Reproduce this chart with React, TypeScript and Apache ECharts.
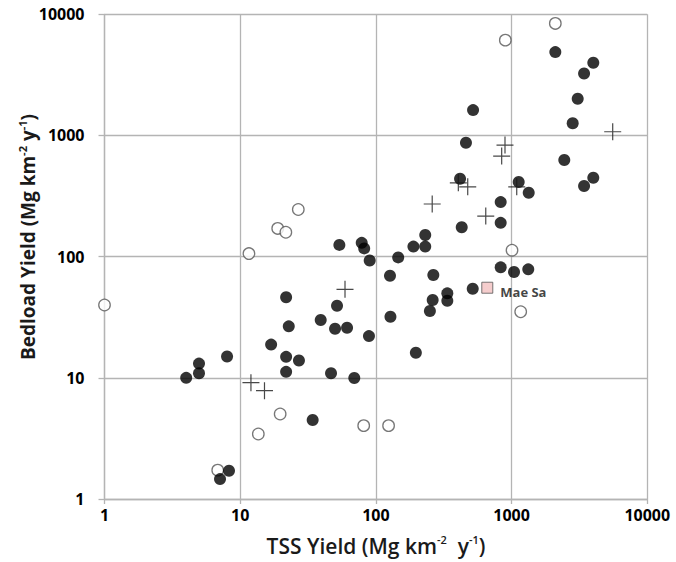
import React, { useEffect, useRef } from "react";
import * as echarts from "echarts";

// [TSS yield, bedload yield]
const filledPoints: [number, number][] = [
  [53.8, 125], [78.6, 130], [82, 117], [90, 93],
  [2100, 4875], [4000, 3980], [3420, 3250], [3070, 2010], [2820, 1260],
  [520, 1620], [461, 871], [2445, 627], [4000, 448], [3420, 383],
  [417, 439], [1128, 413], [1337, 337], [831, 282], [831, 190],
  [429, 175], [231, 151], [189, 121], [231, 121], [146, 98.6],
  [8.27, 1.71], [7.1, 1.46], [4.0, 10.0], [4.97, 13.1], [4.97, 10.9],
  [8.0, 15.0], [21.8, 46.2], [22.8, 26.6], [16.9, 18.8], [21.8, 14.9],
  [27.1, 13.9], [21.8, 11.2], [39.2, 30.0], [51.7, 39.3], [50.0, 25.4],
  [61.3, 25.9], [88.9, 22.1], [46.7, 10.9], [69.3, 9.96], [34.2, 4.49],
  [127, 69.6], [265, 70.5], [517, 54.4], [831, 81.6], [1042, 74.6],
  [1327, 78.6], [336, 49.8], [336, 43.3], [262, 43.9], [250, 35.6],
  [128, 31.9], [197, 16.1],
];

const openPoints: [number, number][] = [
  [26.8, 245], [18.9, 171], [21.7, 159], [11.6, 106], [2100, 8410],
  [899, 6120], [1007, 113], [1, 39.9], [19.7, 5.03], [13.6, 3.44],
  [81.3, 4.03], [124, 4.03], [6.83, 1.73], [1167, 35.1],
];

const crossPoints: [number, number][] = [
  [5560, 1073], [894, 834], [845, 676], [405, 407], [475, 377],
  [1091, 377], [260, 272], [645, 216], [59.2, 53.7], [12.0, 9.12],
  [15.1, 7.83],
];

const maeSaPoint: [number, number][] = [[662, 55.4]];
const maeSaLabel = "Mae Sa";

const FONT = "'Open Sans', 'Liberation Sans', sans-serif";

export default function App() {
  const ref = useRef<HTMLDivElement>(null);

  useEffect(() => {
    if (!ref.current) return;
    const chart = echarts.init(ref.current, undefined, { renderer: "svg" });
    const gridColor = "#b4b4b4";
    const fmt = (v: number) => String(Math.round(v));

    chart.setOption({
      animation: false,
      backgroundColor: "#ffffff",
      grid: { left: 104.5, right: 28.7, top: 14.3, bottom: 63, containLabel: false },
      xAxis: {
        type: "log",
        logBase: 10,
        min: 1,
        max: 10000,
        axisLine: { show: true, lineStyle: { color: gridColor, width: 1.3 } },
        axisTick: { show: true, length: 5, lineStyle: { color: gridColor, width: 1.3 } },
        minorTick: { show: false },
        splitLine: { show: true, lineStyle: { color: gridColor, width: 1.3 } },
        axisLabel: {
          formatter: fmt,
          fontFamily: FONT,
          fontWeight: "bold",
          fontSize: 16,
          color: "#000",
          margin: 8,
        },
      },
      yAxis: {
        type: "log",
        logBase: 10,
        min: 1,
        max: 10000,
        axisLine: { show: true, lineStyle: { color: gridColor, width: 1.3 } },
        axisTick: { show: true, length: 6, lineStyle: { color: gridColor, width: 1.3 } },
        splitLine: { show: true, lineStyle: { color: gridColor, width: 1.3 } },
        axisLabel: {
          formatter: fmt,
          fontFamily: FONT,
          fontWeight: "bold",
          fontSize: 16,
          color: "#000",
          margin: 20,
        },
      },
      graphic: [
        {
          type: "text",
          x: 376,
          y: 546,
          style: {
            text: "{a|TSS Yield (Mg km}{s|-2}{a|  y}{s|-1}{a|)}",
            align: "center",
            verticalAlign: "middle",
            rich: {
              a: { fontFamily: FONT, fontWeight: 600, fontSize: 21, lineHeight: 25, fill: "#1a1a1a" },
              s: { fontFamily: FONT, fontWeight: 600, fontSize: 11, lineHeight: 13, verticalAlign: "top", fill: "#1a1a1a" },
            },
          },
        },
        {
          type: "text",
          x: 28,
          y: 237,
          rotation: Math.PI / 2,
          style: {
            text: "{a|Bedload Yield (Mg km}{s|-2}{a| y}{s|-1}{a|)}",
            align: "center",
            verticalAlign: "middle",
            rich: {
              a: { fontFamily: FONT, fontWeight: "bold", fontSize: 19, lineHeight: 23, fill: "#1a1a1a" },
              s: { fontFamily: FONT, fontWeight: "bold", fontSize: 11, lineHeight: 13, verticalAlign: "top", fill: "#1a1a1a" },
            },
          },
        },
      ],
      series: [
        {
          name: "open",
          type: "scatter",
          data: openPoints,
          symbol: "circle",
          symbolSize: 11.5,
          itemStyle: { color: "#ffffff", borderColor: "#555555", borderWidth: 1.3 },
          z: 3,
        },
        {
          name: "filled",
          type: "scatter",
          data: filledPoints,
          symbol: "circle",
          symbolSize: 12,
          itemStyle: { color: "#000000" },
          z: 4,
        },
        {
          name: "cross",
          type: "scatter",
          data: crossPoints,
          symbol: "path://M0,50 L100,50 M50,0 L50,100",
          symbolSize: 17,
          itemStyle: { color: "none", borderColor: "#1a1a1a", borderWidth: 1.2 },
          z: 5,
        },
        {
          name: "maesa",
          type: "scatter",
          data: maeSaPoint,
          symbol: "rect",
          symbolSize: 11,
          itemStyle: { color: "#f2c0c0", borderColor: "#555555", borderWidth: 1 },
          label: {
            show: true,
            position: "right",
            distance: 7,
            offset: [0, 4],
            formatter: maeSaLabel,
            fontFamily: FONT,
            fontWeight: "bold",
            fontSize: 13,
            color: "#111",
          },
          z: 6,
        },
      ],
    });

    return () => chart.dispose();
  }, []);

  return (
    <div
      ref={ref}
      style={{ position: "fixed", left: 0, top: 0, width: 676, height: 562, background: "#fff" }}
    />
  );
}
